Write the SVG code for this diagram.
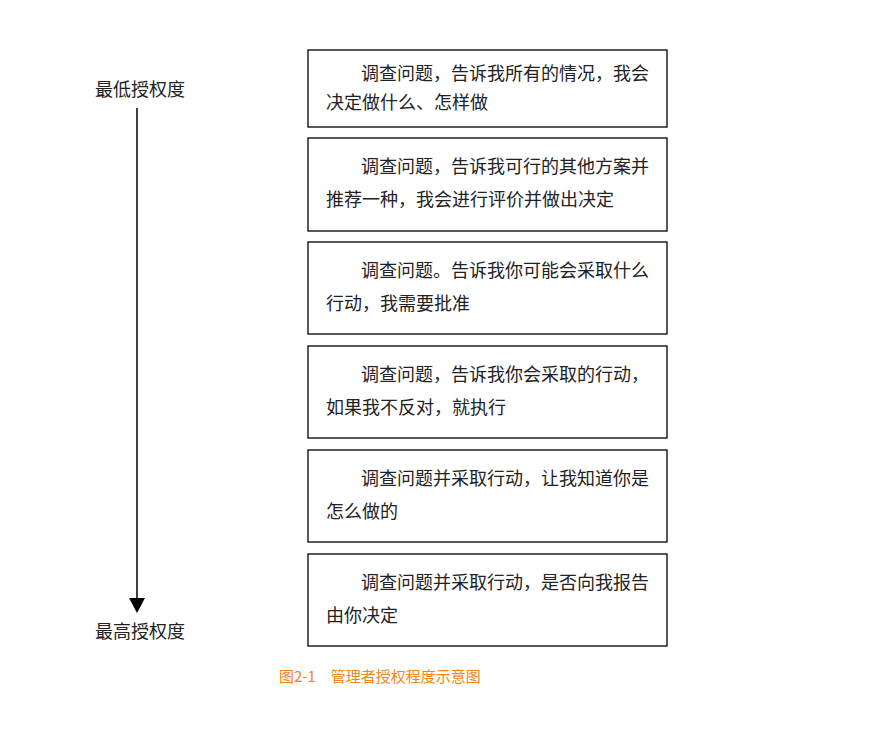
<svg xmlns="http://www.w3.org/2000/svg" width="881" height="733" viewBox="0 0 881 733">
<style>
.b{fill:#fff;stroke:#000;stroke-width:1.3}
.t{font-family:"Noto Sans CJK SC","Noto Sans CJK JP",sans-serif;font-size:18px;fill:#222}
.c{font-family:"Noto Sans CJK SC",sans-serif;font-size:15px;fill:#f08519}
</style>
<rect width="881" height="733" fill="#fff"/>
<g id="connectors"><line x1="137" y1="108" x2="137" y2="600" stroke="#000" stroke-width="1.5"/><path d="M129,598 L145,598 L137,613 Z" fill="#000"/></g>
<g id="low"><text class="t" x="95" y="96">最低授权度</text></g>
<g id="high"><text class="t" x="95" y="638">最高授权度</text></g>
<g id="n1"><rect class="b" x="308" y="50" width="359" height="77"/><text class="t" x="361" y="80">调查问题，告诉我所有的情况，我会</text><text class="t" x="326" y="109">决定做什么、怎样做</text></g>
<g id="n2"><rect class="b" x="308" y="138" width="359" height="93"/><text class="t" x="361" y="173">调查问题，告诉我可行的其他方案并</text><text class="t" x="326" y="206">推荐一种，我会进行评价并做出决定</text></g>
<g id="n3"><rect class="b" x="308" y="242" width="359" height="92"/><text class="t" x="361" y="277">调查问题。告诉我你可能会采取什么</text><text class="t" x="326" y="310">行动，我需要批准</text></g>
<g id="n4"><rect class="b" x="308" y="346" width="359" height="92"/><text class="t" x="361" y="381">调查问题，告诉我你会采取的行动，</text><text class="t" x="326" y="414">如果我不反对，就执行</text></g>
<g id="n5"><rect class="b" x="308" y="450" width="359" height="92"/><text class="t" x="361" y="485">调查问题并采取行动，让我知道你是</text><text class="t" x="326" y="518">怎么做的</text></g>
<g id="n6"><rect class="b" x="308" y="554" width="359" height="92"/><text class="t" x="361" y="589">调查问题并采取行动，是否向我报告</text><text class="t" x="326" y="622">由你决定</text></g>
<g id="caption"><text class="c" x="279" y="682">图2-1　管理者授权程度示意图</text></g>
</svg>
